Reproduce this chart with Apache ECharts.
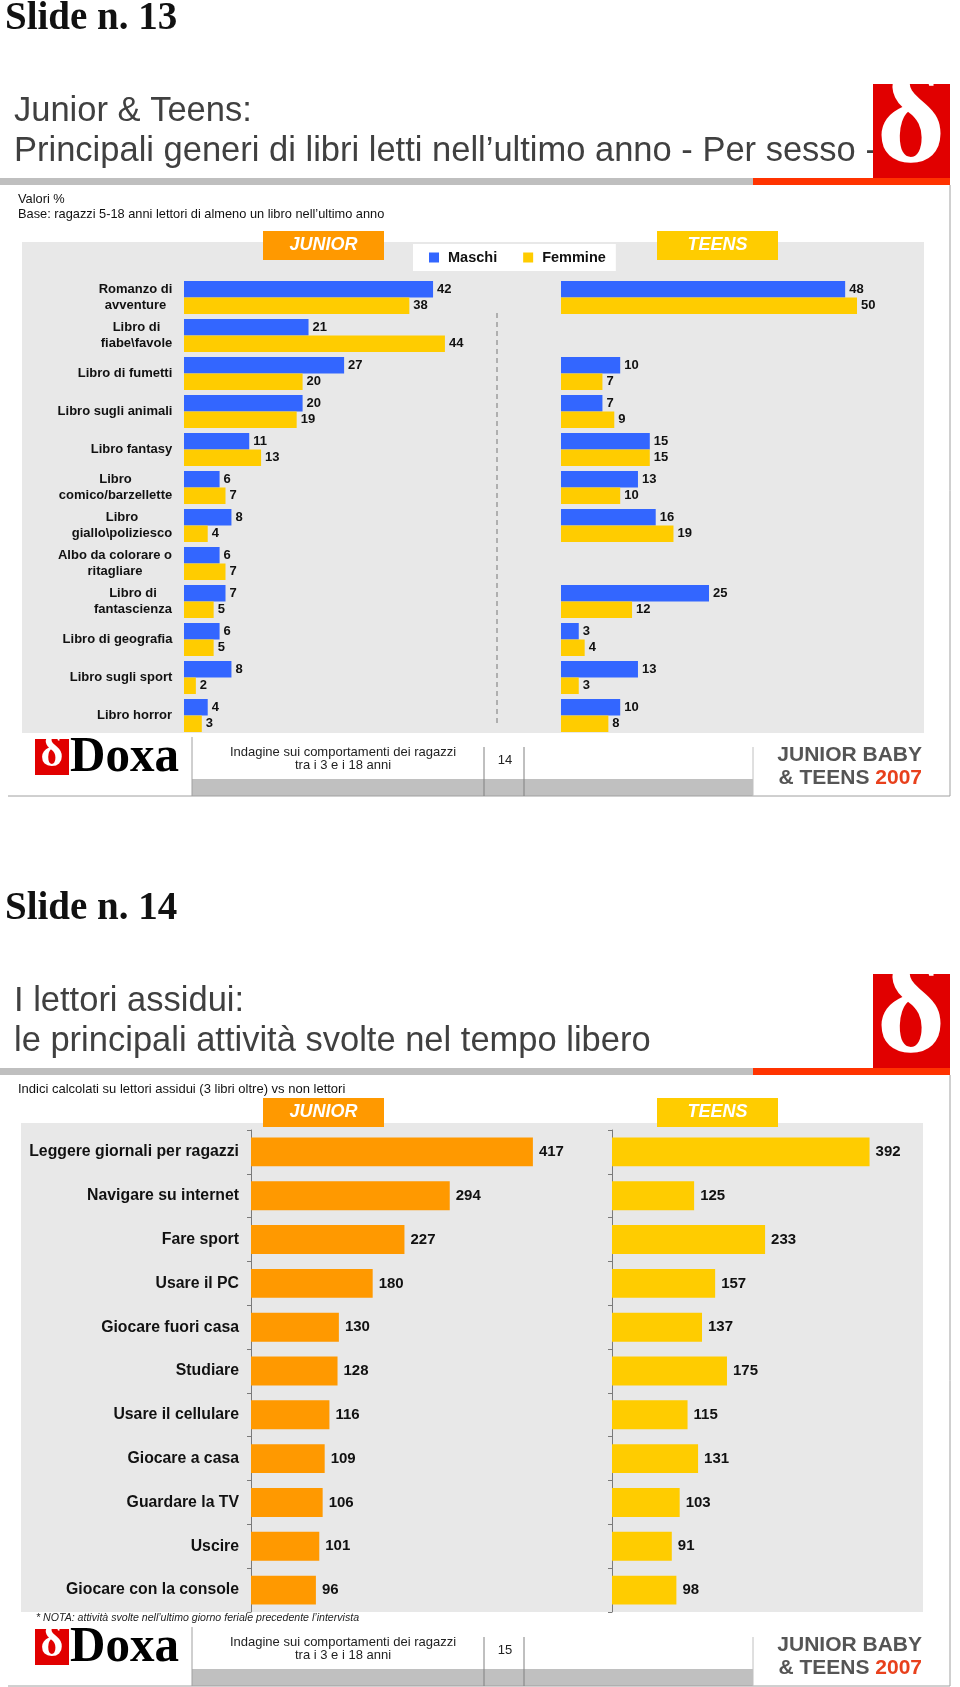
<!DOCTYPE html>
<html><head><meta charset="utf-8">
<script src="https://cdn.jsdelivr.net/npm/echarts@6/dist/echarts.min.js"></script>
<style>html,body{margin:0;padding:0;background:#fff}#c{width:960px;height:1687px}</style>
</head><body><div id="c"></div>
<script>
// ---------- DATA ----------
const genres = [
  "Romanzo di\navventure", "Libro di\nfiabe\\favole", "Libro di fumetti", "Libro sugli animali",
  "Libro fantasy", "Libro\ncomico/barzellette", "Libro\ngiallo\\poliziesco", "Albo da colorare o\nritagliare",
  "Libro di\nfantascienza", "Libro di geografia", "Libro sugli sport", "Libro horror"
];
const juniorMaschi  = [42, 21, 27, 20, 11, 6, 8, 6, 7, 6, 8, 4];
const juniorFemmine = [38, 44, 20, 19, 13, 7, 4, 7, 5, 5, 2, 3];
const teensMaschi   = [48, null, 10, 7, 15, 13, 16, null, 25, 3, 13, 10];
const teensFemmine  = [50, null, 7, 9, 15, 10, 19, null, 12, 4, 3, 8];

const activities = [
  "Leggere giornali per ragazzi", "Navigare su internet", "Fare sport", "Usare il PC",
  "Giocare fuori casa", "Studiare", "Usare il cellulare", "Giocare a casa",
  "Guardare la TV", "Uscire", "Giocare con la console"
];
const indexJunior = [417, 294, 227, 180, 130, 128, 116, 109, 106, 101, 96];
const indexTeens  = [392, 125, 233, 157, 137, 175, 115, 131, 103, 91, 98];

// ---------- STYLE ----------
const SANS = '"Liberation Sans", Arial, sans-serif';
const SERIF = '"Liberation Serif", "Times New Roman", serif';
const BLUE = '#3366FF', YELLOW = '#FFCC00', ORANGE = '#FF9900';

const chart = echarts.init(document.getElementById('c'), null, {renderer: 'canvas'});

// rich styles so that multi-line labels are centred within their block
const mctx = document.createElement('canvas').getContext('2d');
mctx.font = 'bold 13px ' + SANS;
const rich1 = {};
genres.forEach((g, i) => {
  const w = Math.max(...g.split('\n').map(l => mctx.measureText(l).width));
  rich1['r' + i] = {width: Math.ceil(w) + 1, align: 'center', fontSize: 13, fontWeight: 'bold',
                    fontFamily: SANS, color: '#111', lineHeight: 16};
});

function txt(x, y, text, font, fill, align, extra) {
  return Object.assign({
    type: 'text', x: x, y: y, z: 50,
    style: {x: 0, y: 0, text: text, font: font, fill: fill || '#111',
            align: align || 'left', textAlign: align || 'left',
            verticalAlign: 'middle', textVerticalAlign: 'middle'}
  }, extra || {});
}
function rect(x, y, w, h, fill, z) {
  return {type: 'rect', z: z == null ? 1 : z, shape: {x: x, y: y, width: w, height: h}, style: {fill: fill}};
}
function line(x1, y1, x2, y2, stroke, dash) {
  return {type: 'line', z: 5, shape: {x1: x1, y1: y1, x2: x2, y2: y2},
          style: {stroke: stroke, lineWidth: 1, lineDash: dash || null}};
}

function chrome(dy, slideLabel, t1, t2, page) {
  const els = [];
  els.push(txt(5, 19 + dy, slideLabel, 'bold 39px ' + SERIF, '#111'));
  els.push(txt(14, 111 + dy, t1, '34.5px ' + SANS, '#404040'));
  els.push(txt(14, 151 + dy, t2, '34.5px ' + SANS, '#404040'));
  // logo
  els.push(rect(873, 84 + dy, 77, 94, '#E10000', 60));
  els.push(Object.assign(txt(911, 127 + dy, 'δ', 'bold 132px ' + SERIF, '#fff', 'center'), {z: 61}));
  // underline
  els.push(rect(0, 178 + dy, 753, 7, '#BFBFBF', 62));
  els.push(rect(753, 178 + dy, 197, 7, '#FF3300', 62));
  // frame
  els.push(line(950, 185 + dy, 950, 796 + dy, '#A0A0A0'));
  els.push(line(8, 796 + dy, 950, 796 + dy, '#A0A0A0'));
  // footer
  els.push(line(192, 737 + dy, 192, 796 + dy, '#A0A0A0'));
  els.push(rect(192, 779 + dy, 561, 17, '#C0C0C0', 2));
  els.push(line(484, 747 + dy, 484, 796 + dy, '#808080'));
  els.push(line(524, 747 + dy, 524, 796 + dy, '#808080'));
  els.push(line(753, 747 + dy, 753, 796 + dy, '#C0C0C0'));
  els.push(txt(343, 752 + dy, 'Indagine sui comportamenti dei ragazzi', '13px ' + SANS, '#222', 'center'));
  els.push(txt(343, 765 + dy, 'tra i 3 e i 18 anni', '13px ' + SANS, '#222', 'center'));
  els.push(txt(505, 760 + dy, String(page), '13px ' + SANS, '#222', 'center'));
  els.push(txt(922, 755 + dy, 'JUNIOR BABY', 'bold 21px ' + SANS, '#555', 'right'));
  els.push({type: 'text', x: 922, y: 778 + dy, z: 50,
    style: {x: 0, y: 0, text: '{a|& TEENS }{b|2007}', align: 'right', textAlign: 'right',
            verticalAlign: 'middle', textVerticalAlign: 'middle',
            rich: {a: {font: 'bold 21px ' + SANS, fill: '#555', color: '#555'},
                   b: {font: 'bold 21px ' + SANS, fill: '#E8401C', color: '#E8401C'}}}});
  // Doxa logo
  els.push(rect(35, 739 + dy, 34, 36, '#E10000', 40));
  els.push(Object.assign(txt(52, 755 + dy, 'δ', 'bold 44px ' + SERIF, '#fff', 'center'), {z: 41}));
  els.push(txt(70, 758 + dy, 'Doxa', 'bold 50px ' + SERIF, '#000', 'left', {scaleX: 0.98}));
  return els;
}

function tag(x, y, label, color) {
  return [rect(x, y, 121, 29, color, 30),
          Object.assign(txt(x + 60.5, y + 14.5, label, 'italic bold 18px ' + SANS, '#fff', 'center'), {z: 31})];
}

const D2 = 890;
const graphics = [].concat(
  chrome(0, 'Slide n. 13', 'Junior & Teens:', 'Principali generi di libri letti nell\u2019ultimo anno - Per sesso -', 14),
  chrome(D2, 'Slide n. 14', 'I lettori assidui:', 'le principali attività svolte nel tempo libero', 15),
  [
    txt(18, 199, 'Valori %', '12.8px ' + SANS, '#111'),
    txt(18, 214, 'Base: ragazzi 5-18 anni lettori di almeno un libro nell\u2019ultimo anno', '12.8px ' + SANS, '#111'),
    rect(22, 242, 902, 491, '#E8E8E8', 0),
    line(497, 313, 497, 725, '#777', [5, 4]),
    txt(18, 1089, 'Indici calcolati su lettori assidui (3 libri oltre) vs non lettori', '13px ' + SANS, '#111'),
    rect(21, 1123, 902, 489, '#E8E8E8', 0),
    txt(36, 1618, '* NOTA: attività svolte nell\u2019ultimo giorno feriale precedente l\u2019intervista', 'italic 10.6px ' + SANS, '#222')
  ],
  tag(263, 231, 'JUNIOR', ORANGE), tag(657, 231, 'TEENS', YELLOW),
  tag(263, 1098, 'JUNIOR', ORANGE), tag(657, 1098, 'TEENS', YELLOW)
);

const lab1 = {show: true, position: 'right', distance: 4, fontSize: 13, fontWeight: 'bold', fontFamily: SANS, color: '#111'};
const lab2 = {show: true, position: 'right', distance: 6, fontSize: 15, fontWeight: 'bold', fontFamily: SANS, color: '#111'};

const option = {
  animation: false,
  backgroundColor: '#fff',
  graphic: {elements: graphics},
  legend: {
    data: ['Maschi', 'Femmine'], left: 413, top: 244, z: 40,
    icon: 'rect', itemWidth: 10, itemHeight: 10, itemGap: 26,
    backgroundColor: '#fff', padding: [6, 10, 6, 16],
    textStyle: {fontFamily: SANS, fontWeight: 'bold', fontSize: 14.5, color: '#111', padding: [0, 0, 0, 4]}
  },
  grid: [
    {left: 184, top: 278.5, width: 296.5, height: 456},
    {left: 561, top: 278.5, width: 355.2, height: 456},
    {left: 251, top: 1130, width: 405.6, height: 482},
    {left: 612, top: 1130, width: 295.65, height: 482}
  ],
  xAxis: [
    {gridIndex: 0, type: 'value', min: 0, max: 50, show: false},
    {gridIndex: 1, type: 'value', min: 0, max: 60, show: false},
    {gridIndex: 2, type: 'value', min: 0, max: 600, show: false},
    {gridIndex: 3, type: 'value', min: 0, max: 450, show: false}
  ],
  yAxis: [
    {gridIndex: 0, type: 'category', data: genres, inverse: true,
     axisLine: {show: false}, axisTick: {show: false},
     axisLabel: {interval: 0, margin: 11, align: 'right',
                 formatter: (v, i) => v.split('\n').map(l => '{r' + i + '|' + l + '}').join('\n'),
                 rich: rich1}},
    {gridIndex: 1, type: 'category', data: genres, inverse: true, show: false},
    {gridIndex: 2, type: 'category', data: activities, inverse: true,
     axisLine: {show: true, lineStyle: {color: '#7a7a7a', width: 1}},
     axisTick: {show: true, length: 4, lineStyle: {color: '#7a7a7a'}},
     axisLabel: {interval: 0, margin: 12, fontSize: 15.8, fontWeight: 'bold', fontFamily: SANS, color: '#111'}},
    {gridIndex: 3, type: 'category', data: activities, inverse: true,
     axisLine: {show: true, lineStyle: {color: '#7a7a7a', width: 1}},
     axisTick: {show: true, length: 4, lineStyle: {color: '#7a7a7a'}},
     axisLabel: {show: false}}
  ],
  series: [
    {name: 'Maschi', type: 'bar', xAxisIndex: 0, yAxisIndex: 0, data: juniorMaschi, itemStyle: {color: BLUE},
     barGap: '0%', barCategoryGap: '13%', label: lab1},
    {name: 'Femmine', type: 'bar', xAxisIndex: 0, yAxisIndex: 0, data: juniorFemmine, itemStyle: {color: YELLOW},
     barGap: '0%', barCategoryGap: '13%', label: lab1},
    {name: 'Maschi', type: 'bar', xAxisIndex: 1, yAxisIndex: 1, data: teensMaschi, itemStyle: {color: BLUE},
     barGap: '0%', barCategoryGap: '13%', label: lab1},
    {name: 'Femmine', type: 'bar', xAxisIndex: 1, yAxisIndex: 1, data: teensFemmine, itemStyle: {color: YELLOW},
     barGap: '0%', barCategoryGap: '13%', label: lab1},
    {name: 'Junior', type: 'bar', xAxisIndex: 2, yAxisIndex: 2, data: indexJunior, itemStyle: {color: ORANGE},
     barCategoryGap: '34%', label: lab2},
    {name: 'Teens', type: 'bar', xAxisIndex: 3, yAxisIndex: 3, data: indexTeens, itemStyle: {color: YELLOW},
     barCategoryGap: '34%', label: lab2}
  ]
};
chart.setOption(option);
</script>
</body></html>
